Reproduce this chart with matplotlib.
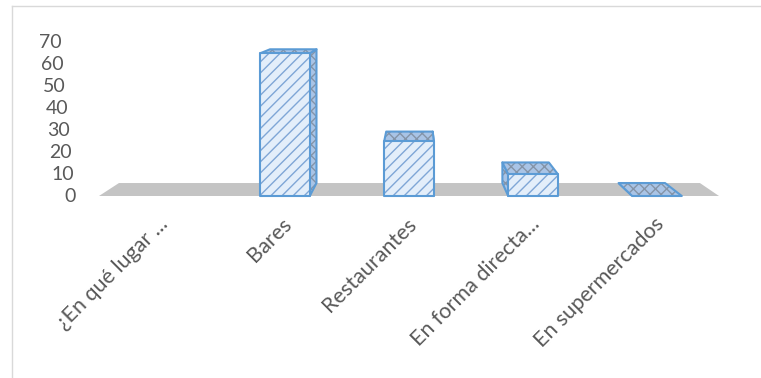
import numpy as np
import matplotlib
matplotlib.use("Agg")
import matplotlib.pyplot as plt
from matplotlib.patches import Polygon
from matplotlib.lines import Line2D
from matplotlib.transforms import ScaledTranslation, blended_transform_factory

# Data
categories = ["¿En qué lugar ...", "Bares", "Restaurantes",
              "En forma directa...", "En supermercados"]
values = [np.nan, 65, 25, 10, 0]
y_ticks = [0, 10, 20, 30, 40, 50, 60, 70]

plt.rcParams['font.family'] = ['Lato', 'DejaVu Sans']
plt.rcParams['hatch.linewidth'] = 1.0

TEXT = '#595959'
EDGE = '#5b9bd5'
FRONT_FC = '#e3eefa'
FRONT_HC = '#7fa6d6'
TOP_FC = '#a9c4e6'
TOP_HC = '#8494a8'
FLOOR = '#c4c4c4'

# 3D perspective settings (vanishing point in data units, depth factor)
VX, VY, K = 2.056, 93.8, 0.937
BAR_W = 0.4


def back(x, y):
    return VX + K * (x - VX), VY + K * (y - VY)


fig = plt.figure(figsize=(7.61, 3.78), dpi=100)
ax = fig.add_axes([99 / 761, 1 - 196 / 378, 620 / 761, (196 - 42.3) / 378])
ax.set_xlim(-0.5, 4.5)
ax.set_ylim(0, 70)
ax.set_frame_on(False)
ax.set_yticks([])


def face(pts, fc, hc, hatch, z):
    ax.add_patch(Polygon(pts, closed=True, facecolor=fc, edgecolor=hc,
                         hatch=hatch, lw=0, clip_on=False, zorder=z))
    ax.add_patch(Polygon(pts, closed=True, fill=False, edgecolor=EDGE,
                         lw=1.5, joinstyle='round', clip_on=False, zorder=z + 0.1))


# floor
x_lo, x_hi = -0.5, len(categories) - 0.5
floor = [(x_lo, 0), (x_hi, 0), back(x_hi, 0), back(x_lo, 0)]
ax.add_patch(Polygon(floor, closed=True, facecolor=FLOOR, edgecolor='none',
                     clip_on=False, zorder=1))

# bars as perspective boxes
for i, v in enumerate(values):
    if np.isnan(v):
        continue
    x0, x1 = i - BAR_W / 2, i + BAR_W / 2
    xe = x1 if i < VX else x0
    side = [(xe, 0), (xe, v), back(xe, v), back(xe, 0)]
    top = [(x0, v), (x1, v), back(x1, v), back(x0, v)]
    face(side, TOP_FC, TOP_HC, 'xxx', 2)
    face(top, TOP_FC, TOP_HC, 'xxx', 3)
    if v > 0:
        front = [(x0, 0), (x1, 0), (x1, v), (x0, v)]
        face(front, FRONT_FC, FRONT_HC, '///', 4)

# category labels, anchored at their upper-right end under each category
ax.set_xticks(np.arange(len(categories)) - 0.025)
ax.set_xticklabels(categories, fontsize=15.5, color=TEXT)
ax.tick_params(axis='x', length=0, pad=13)
for lab in ax.get_xticklabels():
    lab.set_rotation(45)
    lab.set_ha('right')
    lab.set_va('top')
    lab.set_rotation_mode('anchor')

# value axis labels, slanted with the perspective
ytrans = blended_transform_factory(ax.transAxes, ax.transData)
for t in y_ticks:
    off = ScaledTranslation(-(23 + 0.2 * t) / 100, 0, fig.dpi_scale_trans)
    ax.text(0, t, str(t), transform=ytrans + off, ha='right', va='center',
            fontsize=14, color=TEXT)

# chart area border
bc = '#d9d9d9'
fig.add_artist(Line2D([11.5 / 761, 11.5 / 761], [0, 1 - 6 / 378],
                      transform=fig.transFigure, color=bc, lw=1))
fig.add_artist(Line2D([11.5 / 761, 1], [1 - 6 / 378, 1 - 6 / 378],
                      transform=fig.transFigure, color=bc, lw=1))

fig.savefig('out.png', dpi=100)
